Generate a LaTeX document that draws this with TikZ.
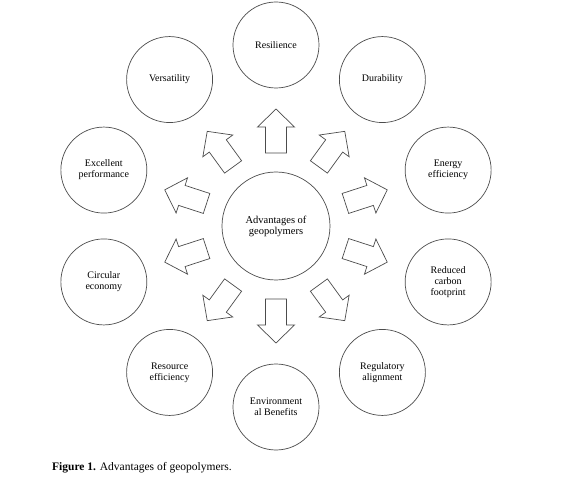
\documentclass[tikz,border=0pt]{standalone}
\usepackage{fontspec}
\setmainfont{Liberation Serif}
\begin{document}
\begin{tikzpicture}[x=1pt,y=1pt,
  bubble/.style={circle,draw=black!70,line width=0.7pt,minimum size=86pt,inner sep=0pt,align=center,font=\fontsize{10}{11}\selectfont},
  hub/.style={bubble,minimum size=108pt,font=\fontsize{10.5}{11}\selectfont},
  blockarrow/.style={draw=black!70,line width=0.7pt,fill=white,line join=miter}]
\useasboundingbox[fill=white] (-276,-253) rectangle (303,226);
\node[hub] (c) at (0,0) {Advantages of\\geopolymers};
\node[bubble] (b90) at (90:181) {Resilience};
\node[bubble] (b54) at (54:181) {Durability};
\node[bubble] (b18) at (18:181) {Energy\\efficiency};
\node[bubble] (bm18) at (-18:181) {Reduced\\carbon\\footprint};
\node[bubble] (bm54) at (-54:181) {Regulatory\\alignment};
\node[bubble] (bm90) at (-90:181) {Environment\\al Benefits};
\node[bubble] (bm126) at (-126:181) {Resource\\efficiency};
\node[bubble] (bm162) at (-162:181) {Circular\\economy};
\node[bubble] (b162) at (162:181) {Excellent\\performance};
\node[bubble] (b126) at (126:181) {Versatility};
\foreach \a in {90,54,18,-18,-54,-90,-126,-162,162,126}{
  \begin{scope}[shift={(\a:95)},rotate=\a]
    \draw[blockarrow] (-22,-10.5) -- (4,-10.5) -- (4,-18.5) -- (22,0) -- (4,18.5) -- (4,10.5) -- (-22,10.5) -- cycle;
  \end{scope}
}
\node[anchor=base west,inner sep=0pt,font=\fontsize{11.5}{13}\selectfont] (cap) at (-224,-244) {\textbf{Figure 1.} Advantages of geopolymers.};
\end{tikzpicture}
\end{document}
